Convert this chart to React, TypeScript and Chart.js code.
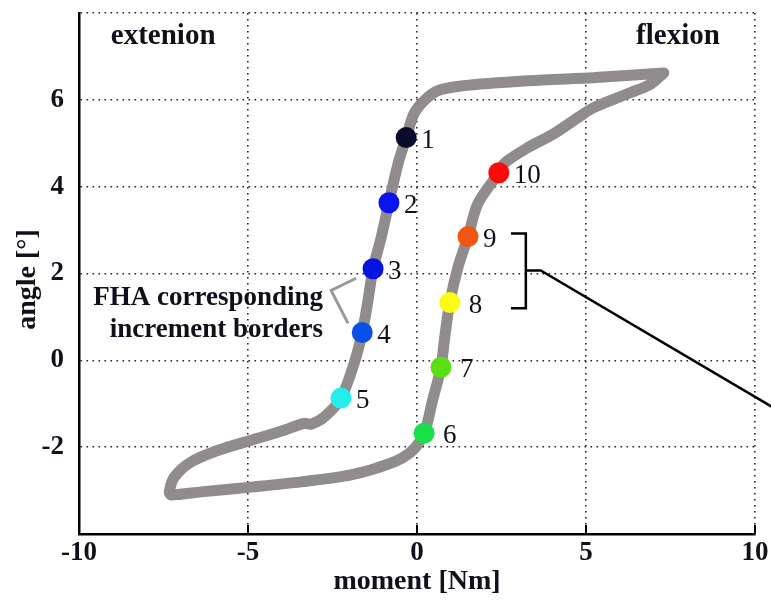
import React, { useEffect, useRef } from "react";
import { Chart, registerables } from "chart.js";

Chart.register(...registerables);

// Hysteresis loop (moment [Nm], angle [°])
const curveMoment = [
  7.3, 6.2, 5.23, 3.28, 1.3, 0.62, 0.21, -0.09, -0.32, -0.56, -0.83, -1.06, -1.3, -1.45, -1.62, -1.86,
  -2.25, -2.75, -3.13, -3.34, -3.93, -4.9, -5.88, -6.68, -7.18, -7.33, -7.27, -6.38, -4.9, -3.43,
  -1.95, -0.77, -0.18, 0.21, 0.46, 0.71, 0.82, 0.97, 1.21, 1.51, 1.8, 2.42, 2.6, 3.28, 4.05, 4.76,
  5.23, 6.23, 6.91, 7.3,
];
const curveAngle = [
  6.62, 6.56, 6.51, 6.44, 6.32, 6.21, 5.98, 5.68, 5.13, 4.53, 3.63, 2.83, 2.11, 1.38, 0.64, -0.07,
  -0.87, -1.31, -1.47, -1.45, -1.61, -1.84, -2.07, -2.34, -2.69, -3.03, -3.1, -3.03, -2.92, -2.8,
  -2.64, -2.37, -2.11, -1.68, -0.92, -0.16, 0.53, 1.33, 2.14, 2.85, 3.61, 4.32, 4.55, 4.9, 5.22, 5.59,
  5.82, 6.14, 6.36, 6.62,
];

// Increment border markers
const markerLabels = ["1", "2", "3", "4", "5", "6", "7", "8", "9", "10"];
const markerMoment = [-0.32, -0.83, -1.3, -1.62, -2.25, 0.21, 0.71, 0.97, 1.51, 2.42];
const markerAngle = [5.13, 3.63, 2.11, 0.64, -0.87, -1.68, -0.16, 1.33, 2.85, 4.32];
const markerColors = [
  "#0b0b2e", "#0a14f0", "#0414e0", "#0a50e6", "#22eeee",
  "#18e048", "#5ae012", "#fcfc12", "#f05512", "#ff0a0a",
];

const xTicks = [-10, -5, 0, 5, 10];
const yTickLabels = [-2, 0, 2, 4, 6];

const SERIF = '"Liberation Serif", "Times New Roman", serif';
const INK = "#10101c";

const annotationPlugin = {
  id: "annotations",
  afterDraw(chart: any) {
    const { ctx, scales, chartArea } = chart;
    const xs = scales.x;
    const ys = scales.y;
    const px = (v: number) => xs.getPixelForValue(v);
    const py = (v: number) => ys.getPixelForValue(v);
    ctx.save();

    // inward tick marks on bottom axis
    ctx.strokeStyle = "#000";
    ctx.lineWidth = 2;
    xTicks.forEach((t) => {
      ctx.beginPath();
      ctx.moveTo(px(t), chartArea.bottom);
      ctx.lineTo(px(t), chartArea.bottom - 9);
      ctx.stroke();
    });

    // marker number labels
    ctx.fillStyle = INK;
    ctx.font = `27px ${SERIF}`;
    ctx.textAlign = "left";
    ctx.textBaseline = "middle";
    markerLabels.forEach((lab, i) => {
      const extra = i >= 5 && i <= 7 ? 4 : 0;
      ctx.fillText(lab, px(markerMoment[i]) + 15 + extra, py(markerAngle[i]) + 3);
    });

    // extension / flexion
    ctx.font = `bold 29px ${SERIF}`;
    ctx.textAlign = "center";
    ctx.fillText("extenion", px(-7.51), py(7.45));
    ctx.fillText("flexion", px(7.72), py(7.45));

    // FHA note
    ctx.font = `bold 27px ${SERIF}`;
    ctx.textAlign = "right";
    ctx.fillText("FHA corresponding", px(-2.78), py(1.43));
    ctx.fillText("increment borders", px(-2.78), py(0.69));

    ctx.strokeStyle = "#9a9a9a";
    ctx.lineWidth = 3;
    ctx.beginPath();
    ctx.moveTo(px(-1.8), py(1.89));
    ctx.lineTo(px(-2.54), py(1.61));
    ctx.lineTo(px(-2.04), py(0.85));
    ctx.stroke();

    // black bracket and leader line
    ctx.strokeStyle = "#000";
    ctx.lineWidth = 2.5;
    ctx.beginPath();
    ctx.moveTo(px(2.78), py(2.92));
    ctx.lineTo(px(3.22), py(2.92));
    ctx.lineTo(px(3.22), py(1.2));
    ctx.lineTo(px(2.78), py(1.2));
    ctx.stroke();
    ctx.beginPath();
    ctx.moveTo(px(3.22), py(2.07));
    ctx.lineTo(px(3.66), py(2.07));
    ctx.lineTo(px(10.5), py(-1.07));
    ctx.stroke();

    // axis titles
    ctx.fillStyle = INK;
    ctx.font = `bold 28px ${SERIF}`;
    ctx.textAlign = "center";
    ctx.textBaseline = "middle";
    ctx.fillText("moment [Nm]", (chartArea.left + chartArea.right) / 2, 582);
    ctx.translate(28, (chartArea.top + chartArea.bottom) / 2 + 6);
    ctx.rotate(-Math.PI / 2);
    ctx.fillText("angle [°]", 0, 0);
    ctx.restore();
  },
};

export default function App() {
  const ref = useRef<HTMLCanvasElement | null>(null);
  useEffect(() => {
    if (!ref.current) return;
    const curve = curveMoment.map((m, i) => ({ x: m, y: curveAngle[i] }));
    const markers = markerMoment.map((m, i) => ({ x: m, y: markerAngle[i] }));
    const chart = new Chart(ref.current, {
      type: "scatter",
      data: {
        datasets: [
          {
            data: curve,
            order: 2,
            showLine: true,
            borderColor: "#8f8c8b",
            borderWidth: 11,
            pointRadius: 0,
            tension: 0.3,
            borderJoinStyle: "round",
            borderCapStyle: "round",
          },
          {
            data: markers,
            order: 1,
            pointRadius: 10.5,
            pointBackgroundColor: markerColors,
            pointBorderWidth: 0,
            borderWidth: 0,
          },
        ],
      } as any,
      options: {
        responsive: false,
        animation: false,
        layout: { padding: { top: 13, right: 16, left: 0, bottom: 0 } },
        plugins: { legend: { display: false }, tooltip: { enabled: false } },
        scales: {
          x: {
            type: "linear",
            min: -10,
            max: 10,
            afterFit: (s: any) => {
              s.height = 67;
              s.paddingLeft = 0;
              s.paddingRight = 0;
            },
            afterBuildTicks: (s: any) => {
              s.ticks = xTicks.map((v) => ({ value: v }));
            },
            ticks: {
              color: INK,
              font: { family: SERIF, size: 27, weight: "bold" },
              padding: 3,
              maxRotation: 0,
            },
            grid: { color: "#222", lineWidth: 1.6, drawTicks: false },
            border: { display: true, color: "#000", width: 2.5, dash: [1.6, 4.4] },
          },
          y: {
            type: "linear",
            min: -4,
            max: 8,
            afterFit: (s: any) => {
              s.width = 79;
              s.paddingTop = 0;
              s.paddingBottom = 0;
            },
            ticks: {
              stepSize: 2,
              color: INK,
              font: { family: SERIF, size: 27, weight: "bold" },
              padding: 15,
              callback: (v: any) => (yTickLabels.includes(Number(v)) ? String(v) : ""),
            },
            grid: { color: "#222", lineWidth: 1.6, drawTicks: false },
            border: { display: true, color: "#000", width: 2.5, dash: [1.6, 4.4] },
          },
        },
      } as any,
      plugins: [annotationPlugin],
    });
    return () => chart.destroy();
  }, []);
  return (
    <div style={{ position: "absolute", left: 0, top: 0, width: 771, height: 601, background: "#fff" }}>
      <canvas ref={ref} width={771} height={601} />
    </div>
  );
}
